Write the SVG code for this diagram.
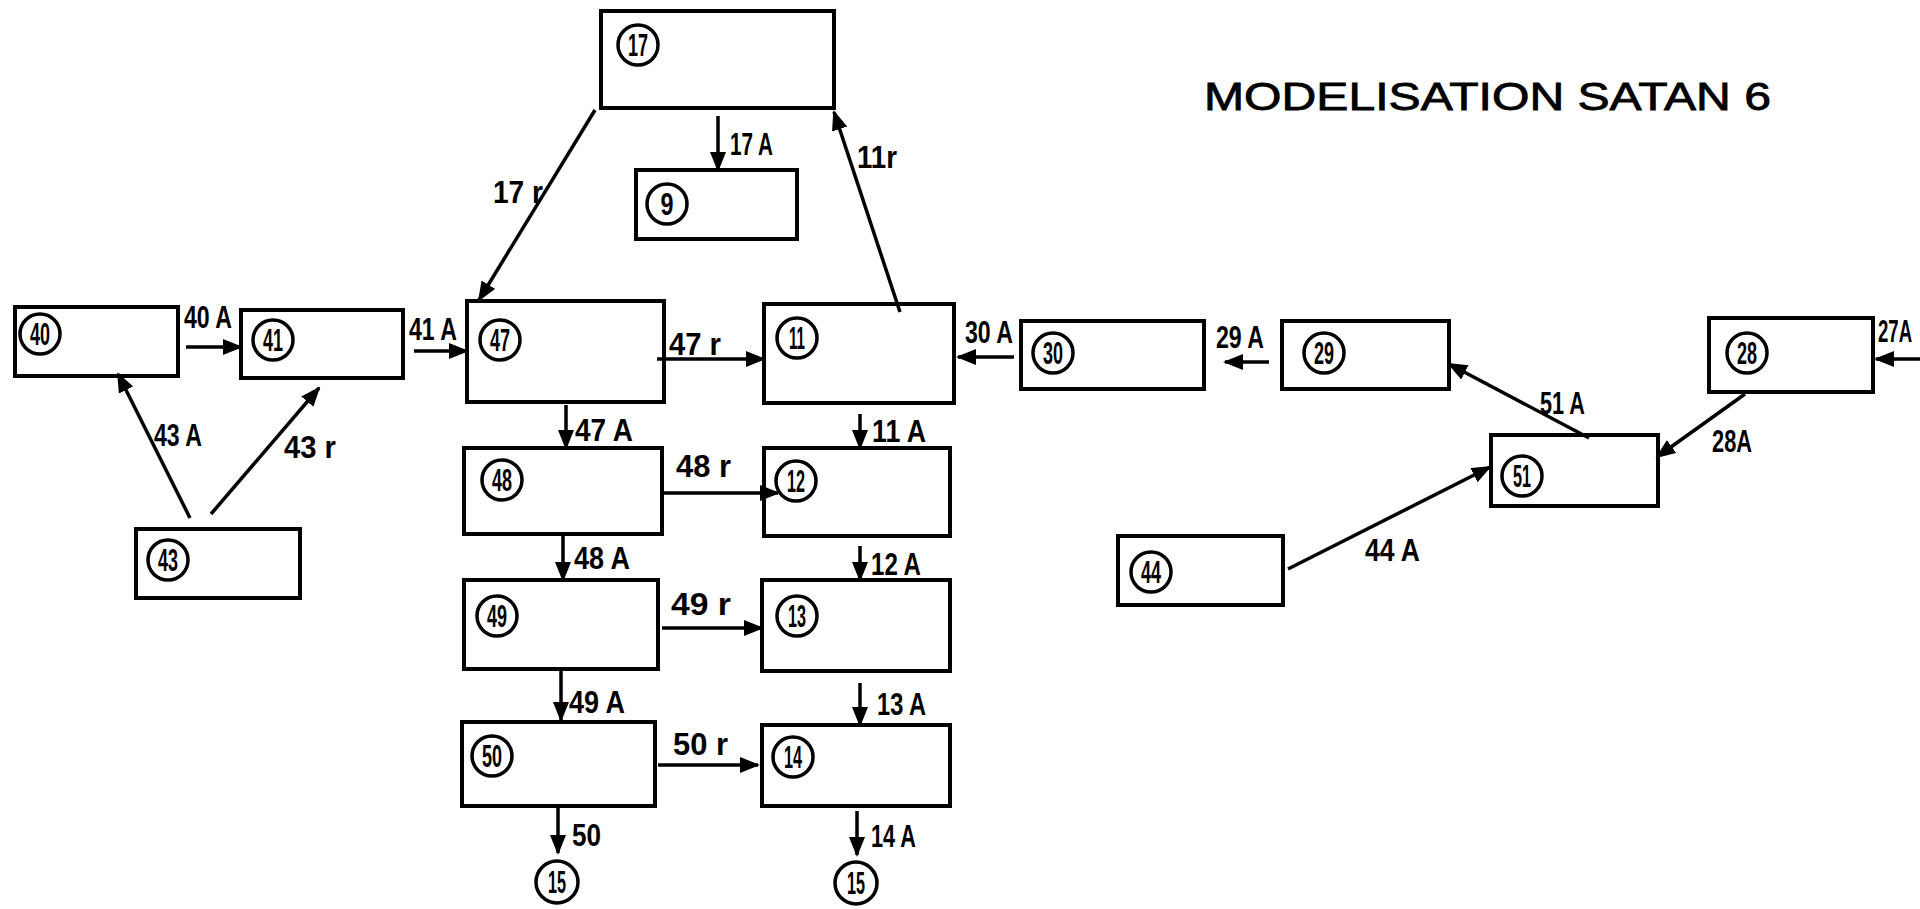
<svg xmlns="http://www.w3.org/2000/svg" width="1920" height="909" viewBox="0 0 1920 909">
<style>
.box{fill:none;stroke:#000;stroke-width:4}
.circ{fill:none;stroke:#000;stroke-width:3.5}
.num{font-family:"Liberation Sans",Arial,sans-serif;font-weight:bold;font-size:32px;text-anchor:middle;fill:#000}
.lbl{font-family:"Liberation Sans",Arial,sans-serif;font-weight:bold;font-size:31px;fill:#000}
.title{font-family:"Liberation Sans",Arial,sans-serif;font-size:38px;fill:#000;stroke:#000;stroke-width:0.8}
.edge{fill:none;stroke:#000;stroke-width:3.5;marker-end:url(#ah)}
</style>
<defs>
<marker id="ah" markerUnits="userSpaceOnUse" markerWidth="20" markerHeight="16" refX="18" refY="8" orient="auto">
<path d="M0,0 L20,8 L0,16 Z" fill="#000"/>
</marker>
</defs>
<rect width="1920" height="909" fill="#fff"/>

<text class="title" x="1204" y="110" textLength="567" lengthAdjust="spacingAndGlyphs">MODELISATION SATAN 6</text>

<g id="connectors">
<line class="edge" x1="718" y1="116" x2="718" y2="170"/>
<line class="edge" x1="900" y1="312" x2="834" y2="112"/>
<line class="edge" x1="595" y1="110" x2="479" y2="300"/>
<line class="edge" x1="186" y1="347" x2="241" y2="347"/>
<line class="edge" x1="414" y1="351" x2="467" y2="351"/>
<line class="edge" x1="657" y1="359" x2="764" y2="359"/>
<line class="edge" x1="1014" y1="357" x2="958" y2="357"/>
<line class="edge" x1="1269" y1="362" x2="1225" y2="362"/>
<line class="edge" x1="1920" y1="359" x2="1876" y2="359"/>
<line class="edge" x1="1589" y1="438" x2="1449" y2="364"/>
<line class="edge" x1="1745" y1="394" x2="1657" y2="457"/>
<line class="edge" x1="1288" y1="569" x2="1490" y2="467"/>
<line class="edge" x1="190" y1="518" x2="118" y2="374"/>
<line class="edge" x1="211" y1="514" x2="319" y2="388"/>
<line class="edge" x1="566" y1="405" x2="566" y2="448"/>
<line class="edge" x1="860" y1="414" x2="860" y2="448"/>
<line class="edge" x1="662" y1="493" x2="778" y2="493"/>
<line class="edge" x1="563" y1="536" x2="563" y2="580"/>
<line class="edge" x1="860" y1="546" x2="860" y2="580"/>
<line class="edge" x1="662" y1="628" x2="762" y2="628"/>
<line class="edge" x1="561" y1="671" x2="561" y2="720"/>
<line class="edge" x1="860" y1="683" x2="860" y2="725"/>
<line class="edge" x1="658" y1="765" x2="758" y2="765"/>
<line class="edge" x1="558" y1="806" x2="558" y2="853"/>
<line class="edge" x1="857" y1="811" x2="857" y2="855"/>

<text class="lbl" x="730" y="155" textLength="43" lengthAdjust="spacingAndGlyphs">17 A</text>
<text class="lbl" x="857" y="168" textLength="40" lengthAdjust="spacingAndGlyphs">11r</text>
<text class="lbl" x="493" y="203" textLength="50" lengthAdjust="spacingAndGlyphs">17 r</text>
<text class="lbl" x="184" y="328" textLength="48" lengthAdjust="spacingAndGlyphs">40 A</text>
<text class="lbl" x="409" y="340" textLength="48" lengthAdjust="spacingAndGlyphs">41 A</text>
<text class="lbl" x="669" y="355" textLength="52" lengthAdjust="spacingAndGlyphs">47 r</text>
<text class="lbl" x="965" y="343" textLength="48" lengthAdjust="spacingAndGlyphs">30 A</text>
<text class="lbl" x="1216" y="348" textLength="48" lengthAdjust="spacingAndGlyphs">29 A</text>
<text class="lbl" transform="translate(1878,342) scale(0.6,1)" x="0" y="0">27A</text>
<text class="lbl" x="1540" y="414" textLength="45" lengthAdjust="spacingAndGlyphs">51 A</text>
<text class="lbl" x="1712" y="452" textLength="40" lengthAdjust="spacingAndGlyphs">28A</text>
<text class="lbl" x="1365" y="561" textLength="55" lengthAdjust="spacingAndGlyphs">44 A</text>
<text class="lbl" x="154" y="446" textLength="48" lengthAdjust="spacingAndGlyphs">43 A</text>
<text class="lbl" x="284" y="458" textLength="52" lengthAdjust="spacingAndGlyphs">43 r</text>
<text class="lbl" x="575" y="441" textLength="58" lengthAdjust="spacingAndGlyphs">47 A</text>
<text class="lbl" x="872" y="442" textLength="54" lengthAdjust="spacingAndGlyphs">11 A</text>
<text class="lbl" x="676" y="477" textLength="55" lengthAdjust="spacingAndGlyphs">48 r</text>
<text class="lbl" x="574" y="569" textLength="56" lengthAdjust="spacingAndGlyphs">48 A</text>
<text class="lbl" x="871" y="575" textLength="50" lengthAdjust="spacingAndGlyphs">12 A</text>
<text class="lbl" x="671" y="615" textLength="60" lengthAdjust="spacingAndGlyphs">49 r</text>
<text class="lbl" x="569" y="713" textLength="56" lengthAdjust="spacingAndGlyphs">49 A</text>
<text class="lbl" x="877" y="715" textLength="49" lengthAdjust="spacingAndGlyphs">13 A</text>
<text class="lbl" x="673" y="755" textLength="55" lengthAdjust="spacingAndGlyphs">50 r</text>
<text class="lbl" x="572" y="846" textLength="29" lengthAdjust="spacingAndGlyphs">50</text>
<text class="lbl" x="871" y="847" textLength="45" lengthAdjust="spacingAndGlyphs">14 A</text>
</g>

<g id="n17"><rect class="box" x="601" y="11" width="233" height="97"/><circle class="circ" cx="638" cy="45" r="20"/><text class="num" x="638" y="56" textLength="20" lengthAdjust="spacingAndGlyphs">17</text></g>
<g id="n9"><rect class="box" x="636" y="170" width="161" height="69"/><circle class="circ" cx="667" cy="204" r="20"/><text class="num" x="667" y="215" textLength="13" lengthAdjust="spacingAndGlyphs">9</text></g>
<g id="n40"><rect class="box" x="15" y="307" width="163" height="69"/><circle class="circ" cx="40" cy="334" r="20"/><text class="num" x="40" y="345" textLength="20" lengthAdjust="spacingAndGlyphs">40</text></g>
<g id="n41"><rect class="box" x="241" y="310" width="162" height="68"/><circle class="circ" cx="273" cy="340" r="20"/><text class="num" x="273" y="351" textLength="20" lengthAdjust="spacingAndGlyphs">41</text></g>
<g id="n47"><rect class="box" x="467" y="301" width="197" height="101"/><circle class="circ" cx="500" cy="340" r="20"/><text class="num" x="500" y="351" textLength="20" lengthAdjust="spacingAndGlyphs">47</text></g>
<g id="n11"><rect class="box" x="764" y="304" width="190" height="99"/><circle class="circ" cx="797" cy="338" r="20"/><text class="num" x="797" y="349" textLength="16" lengthAdjust="spacingAndGlyphs">11</text></g>
<g id="n30"><rect class="box" x="1021" y="321" width="183" height="68"/><circle class="circ" cx="1053" cy="353" r="20"/><text class="num" x="1053" y="364" textLength="20" lengthAdjust="spacingAndGlyphs">30</text></g>
<g id="n29"><rect class="box" x="1282" y="321" width="167" height="68"/><circle class="circ" cx="1324" cy="353" r="20"/><text class="num" x="1324" y="364" textLength="20" lengthAdjust="spacingAndGlyphs">29</text></g>
<g id="n28"><rect class="box" x="1709" y="318" width="164" height="74"/><circle class="circ" cx="1747" cy="353" r="20"/><text class="num" x="1747" y="364" textLength="20" lengthAdjust="spacingAndGlyphs">28</text></g>
<g id="n51"><rect class="box" x="1491" y="435" width="167" height="71"/><circle class="circ" cx="1522" cy="476" r="20"/><text class="num" x="1522" y="487" textLength="18" lengthAdjust="spacingAndGlyphs">51</text></g>
<g id="n44"><rect class="box" x="1118" y="536" width="165" height="69"/><circle class="circ" cx="1151" cy="572" r="20"/><text class="num" x="1151" y="583" textLength="20" lengthAdjust="spacingAndGlyphs">44</text></g>
<g id="n43"><rect class="box" x="136" y="529" width="164" height="69"/><circle class="circ" cx="168" cy="560" r="20"/><text class="num" x="168" y="571" textLength="20" lengthAdjust="spacingAndGlyphs">43</text></g>
<g id="n48"><rect class="box" x="464" y="448" width="198" height="86"/><circle class="circ" cx="502" cy="480" r="20"/><text class="num" x="502" y="491" textLength="20" lengthAdjust="spacingAndGlyphs">48</text></g>
<g id="n12"><rect class="box" x="764" y="448" width="186" height="88"/><circle class="circ" cx="796" cy="481" r="20"/><text class="num" x="796" y="492" textLength="18" lengthAdjust="spacingAndGlyphs">12</text></g>
<g id="n49"><rect class="box" x="464" y="580" width="194" height="89"/><circle class="circ" cx="497" cy="616" r="20"/><text class="num" x="497" y="627" textLength="20" lengthAdjust="spacingAndGlyphs">49</text></g>
<g id="n13"><rect class="box" x="762" y="580" width="188" height="91"/><circle class="circ" cx="797" cy="616" r="20"/><text class="num" x="797" y="627" textLength="18" lengthAdjust="spacingAndGlyphs">13</text></g>
<g id="n50"><rect class="box" x="462" y="722" width="193" height="84"/><circle class="circ" cx="492" cy="756" r="20"/><text class="num" x="492" y="767" textLength="20" lengthAdjust="spacingAndGlyphs">50</text></g>
<g id="n14"><rect class="box" x="762" y="725" width="188" height="81"/><circle class="circ" cx="793" cy="757" r="20"/><text class="num" x="793" y="768" textLength="18" lengthAdjust="spacingAndGlyphs">14</text></g>
<g id="n15a"><circle class="circ" cx="557" cy="882" r="21"/><text class="num" x="557" y="893" textLength="18" lengthAdjust="spacingAndGlyphs">15</text></g>
<g id="n15b"><circle class="circ" cx="856" cy="883" r="21"/><text class="num" x="856" y="894" textLength="18" lengthAdjust="spacingAndGlyphs">15</text></g>
</svg>
